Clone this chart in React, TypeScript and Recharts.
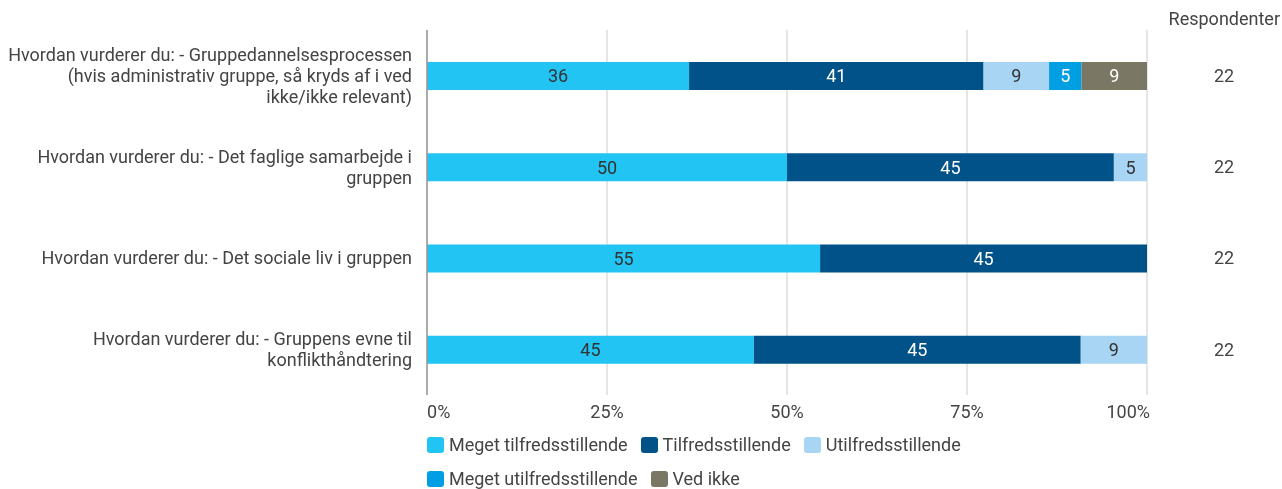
import React from "react";
import { BarChart, Bar, XAxis, YAxis, CartesianGrid, LabelList, Legend } from "recharts";

const categories = [
  "Hvordan vurderer du: - Gruppedannelsesprocessen\n(hvis administrativ gruppe, så kryds af i ved\nikke/ikke relevant)",
  "Hvordan vurderer du: - Det faglige samarbejde i\ngruppen",
  "Hvordan vurderer du: - Det sociale liv i gruppen",
  "Hvordan vurderer du: - Gruppens evne til\nkonflikthåndtering",
];
const megetTilfreds = [36.4, 50, 54.6, 45.4];
const tilfreds = [40.9, 45.4, 45.4, 45.4];
const utilfreds = [9.1, 4.6, 0, 9.2];
const megetUtilfreds = [4.5, 0, 0, 0];
const vedIkke = [9.1, 0, 0, 0];
const respondenter = [22, 22, 22, 22];
const xTicks = [0, 25, 50, 75, 100];

const series = [
  { key: "megetTilfreds", name: "Meget tilfredsstillende", color: "#21C4F3", label: "#333333", values: megetTilfreds },
  { key: "tilfreds", name: "Tilfredsstillende", color: "#005288", label: "#ffffff", values: tilfreds },
  { key: "utilfreds", name: "Utilfredsstillende", color: "#A9D5F5", label: "#333333", values: utilfreds },
  { key: "megetUtilfreds", name: "Meget utilfredsstillende", color: "#009FE3", label: "#ffffff", values: megetUtilfreds },
  { key: "vedIkke", name: "Ved ikke", color: "#7A7764", label: "#ffffff", values: vedIkke },
];

const data = categories.map((name, i) => {
  const row: any = { name, resp: respondenter[i] };
  series.forEach((s) => (row[s.key] = s.values[i]));
  return row;
});

const CategoryTick = (props: any) => {
  const { x, y, payload } = props;
  const lines = String(payload.value).split("\n");
  const lh = 21;
  return (
    <text x={x} y={y} textAnchor="end" fill="#444" fontSize={18}>
      {lines.map((l, i) => (
        <tspan key={i} x={x} dy={i === 0 ? -((lines.length - 1) / 2) * lh + 6.3 : lh}>
          {l}
        </tspan>
      ))}
    </text>
  );
};

const RespTick = (props: any) => {
  const { x, y, index } = props;
  return (
    <text x={x} y={y} dy={6.3} textAnchor="middle" fill="#444" fontSize={18}>
      {respondenter[index]}
    </text>
  );
};

const PercentTick = (props: any) => {
  const { x, y, payload, index } = props;
  const anchor = index === 0 ? "start" : index === xTicks.length - 1 ? "end" : "middle";
  const dx = index === xTicks.length - 1 ? 3 : 0;
  return (
    <text x={x + dx} y={y} dy={13} textAnchor={anchor} fill="#444" fontSize={18}>
      {payload.value}%
    </text>
  );
};

const LegendContent = () => (
  <div style={{ display: "flex", flexWrap: "wrap", columnGap: 13, rowGap: 13, height: 55, width: 560 }}>
    {series.map((s) => (
      <div key={s.key} style={{ display: "flex", alignItems: "center", height: 21 }}>
        <span style={{ width: 17, height: 16, background: s.color, borderRadius: 3, marginRight: 5, display: "inline-block" }} />
        <span style={{ fontSize: 18, color: "#444", lineHeight: "21px" }}>{s.name}</span>
      </div>
    ))}
  </div>
);

export default function App() {
  return (
    <div style={{ position: "fixed", left: 8, top: 8, width: 1274, height: 481, fontFamily: "Roboto, sans-serif" }}>
      <div style={{ position: "absolute", right: 2, top: 0, textAlign: "right", whiteSpace: "nowrap", fontSize: 18, color: "#444", lineHeight: "21px" }}>
        Respondenter
      </div>
      <BarChart
        width={1274}
        height={481}
        data={data}
        layout="vertical"
        margin={{ top: 22, right: 0, bottom: 0, left: 0 }}
      >
        <CartesianGrid horizontal={false} stroke="#cccccc" />
        <XAxis
          type="number"
          domain={[0, 100]}
          ticks={xTicks}
          height={39}
          axisLine={false}
          tickLine={false}
          tickSize={0}
          tickMargin={10}
          tick={<PercentTick />}
        />
        <YAxis
          yAxisId="left"
          type="category"
          dataKey="name"
          width={419}
          axisLine={{ stroke: "#999999", strokeWidth: 1.5 }}
          tickLine={false}
          tickSize={0}
          tickMargin={15}
          tick={<CategoryTick />}
        />
        <YAxis
          yAxisId="right"
          orientation="right"
          type="category"
          dataKey="name"
          width={135}
          axisLine={false}
          tickLine={false}
          tickSize={0}
          tickMargin={77}
          tick={<RespTick />}
        />
        {series.map((s) => (
          <Bar
            key={s.key}
            yAxisId="left"
            dataKey={s.key}
            name={s.name}
            stackId="a"
            fill={s.color}
            barSize={28}
            isAnimationActive={false}
          >
            <LabelList
              dataKey={s.key}
              position="center"
              fill={s.label}
              fontSize={18}
              formatter={(v: any) => (v > 0 ? Math.round(v) : "")}
            />
          </Bar>
        ))}
        <Legend
          verticalAlign="bottom"
          align="left"
          content={<LegendContent />}
          wrapperStyle={{ left: 419, bottom: 0, width: 560 }}
        />
      </BarChart>
    </div>
  );
}
